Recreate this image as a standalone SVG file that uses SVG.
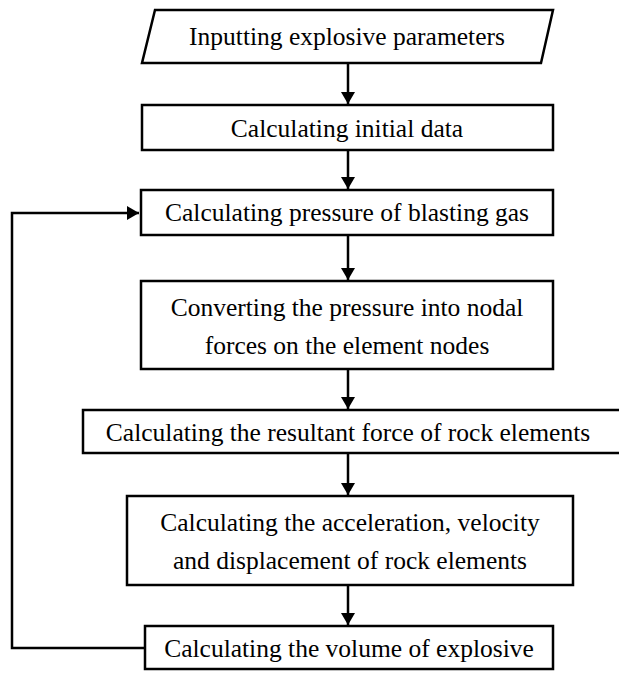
<svg xmlns="http://www.w3.org/2000/svg" width="619" height="673" viewBox="0 0 619 673">
<defs>
<style>
.box{fill:#fff;stroke:#000;stroke-width:2.5}
.t{font-family:"Liberation Serif","Times New Roman",serif;font-size:25.5px;fill:#000;text-anchor:middle}
.c{fill:none;stroke:#000;stroke-width:2.5}
</style>
<marker id="ah" markerWidth="12" markerHeight="14" refX="12" refY="7" orient="auto" markerUnits="userSpaceOnUse" viewBox="0 0 12 14">
<path d="M0,0 L12,7 L0,14 Z" fill="#000"/>
</marker>
</defs>
<rect width="619" height="673" fill="#fff"/>
<g id="connectors">
<line class="c" x1="348" y1="63" x2="348" y2="104" marker-end="url(#ah)"/>
<line class="c" x1="348" y1="150" x2="348" y2="189" marker-end="url(#ah)"/>
<line class="c" x1="348" y1="235" x2="348" y2="280" marker-end="url(#ah)"/>
<line class="c" x1="348" y1="369" x2="348" y2="409" marker-end="url(#ah)"/>
<line class="c" x1="348" y1="453" x2="348" y2="495" marker-end="url(#ah)"/>
<line class="c" x1="348" y1="585" x2="348" y2="625" marker-end="url(#ah)"/>
<polyline class="c" points="145,648 12,648 12,213 139,213" marker-end="url(#ah)"/>
</g>
<g id="n1">
<polygon class="box" points="155,10 553,10 541,63 142,63"/>
<text class="t" x="347" y="45">Inputting explosive parameters</text>
</g>
<g id="n2">
<rect class="box" x="142" y="105" width="411" height="45"/>
<text class="t" x="347" y="137">Calculating initial data</text>
</g>
<g id="n3">
<rect class="box" x="141" y="190" width="412" height="45"/>
<text class="t" x="347" y="221">Calculating pressure of blasting gas</text>
</g>
<g id="n4">
<rect class="box" x="141" y="281" width="412" height="88"/>
<text class="t" x="347" y="316">Converting the pressure into nodal</text>
<text class="t" x="347" y="354">forces on the element nodes</text>
</g>
<g id="n5">
<rect class="box" x="83" y="410" width="540" height="43"/>
<text class="t" x="348" y="441">Calculating the resultant force of rock elements</text>
</g>
<g id="n6">
<rect class="box" x="127" y="496" width="446" height="89"/>
<text class="t" x="350" y="531">Calculating the acceleration, velocity</text>
<text class="t" x="350" y="569">and displacement of rock elements</text>
</g>
<g id="n7">
<rect class="box" x="145" y="626" width="408" height="43"/>
<text class="t" x="349" y="657">Calculating the volume of explosive</text>
</g>
</svg>
